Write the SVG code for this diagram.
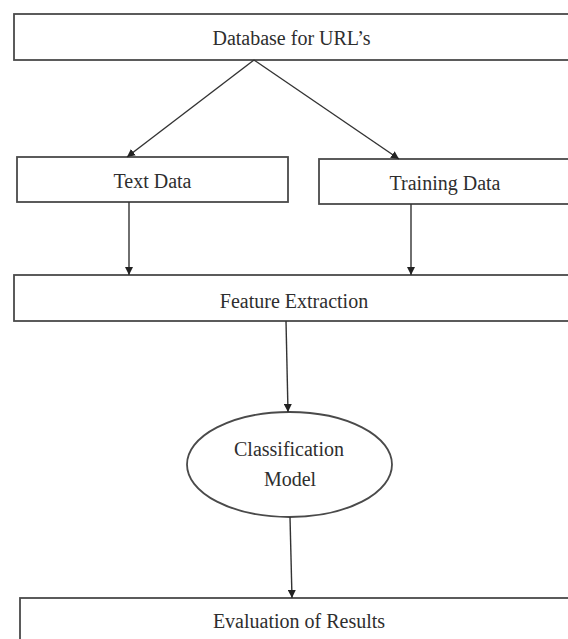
<svg xmlns="http://www.w3.org/2000/svg" width="568" height="639" viewBox="0 0 568 639">
<style>
.box{fill:#fff;stroke:#4a4a4a;stroke-width:1.8}
.lbl{font-family:"Liberation Serif","Times New Roman",serif;font-size:20px;fill:#2e2e2e;text-anchor:middle}
.con{stroke:#333;stroke-width:1.4;fill:none;marker-end:url(#ah)}
</style>
<defs>
<marker id="ah" viewBox="0 0 10 10" refX="10" refY="5" markerWidth="8" markerHeight="8" markerUnits="userSpaceOnUse" orient="auto">
<path d="M0,0 L10,5 L0,10 z" fill="#222"/>
</marker>
</defs>
<rect width="568" height="639" fill="#fff"/>
<g id="db">
<rect class="box" x="14" y="14" width="560" height="46"/>
<text class="lbl" x="291.5" y="45">Database for URL’s</text>
</g>
<g id="text-data">
<rect class="box" x="17" y="157" width="271" height="45"/>
<text class="lbl" x="152.5" y="188">Text Data</text>
</g>
<g id="training-data">
<rect class="box" x="319" y="159" width="255" height="45"/>
<text class="lbl" x="445" y="190">Training Data</text>
</g>
<g id="feature">
<rect class="box" x="14" y="275" width="560" height="46"/>
<text class="lbl" x="294" y="308">Feature Extraction</text>
</g>
<g id="model">
<ellipse class="box" cx="289.5" cy="464.5" rx="102.5" ry="52.5"/>
<text class="lbl" x="289" y="456">Classification</text>
<text class="lbl" x="290" y="486">Model</text>
</g>
<g id="eval">
<rect class="box" x="20" y="598" width="560" height="60"/>
<text class="lbl" x="299" y="628">Evaluation of Results</text>
</g>
<g id="connectors">
<line class="con" x1="254" y1="60" x2="127" y2="157"/>
<line class="con" x1="254" y1="60" x2="399" y2="159"/>
<line class="con" x1="129" y1="202" x2="129" y2="275"/>
<line class="con" x1="411" y1="204" x2="411" y2="275"/>
<line class="con" x1="286" y1="321" x2="288" y2="412"/>
<line class="con" x1="290" y1="517" x2="292" y2="598"/>
</g>
</svg>
